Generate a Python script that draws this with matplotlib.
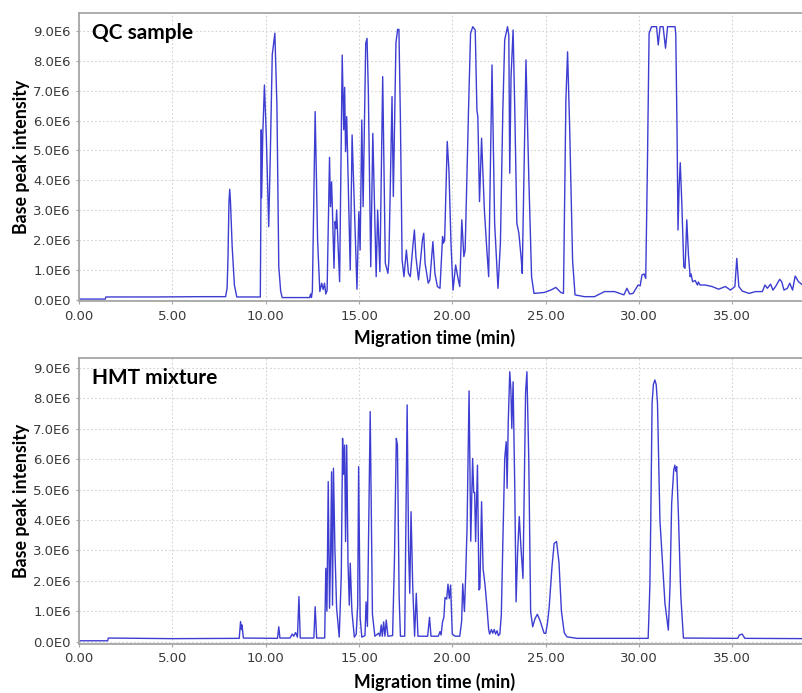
import numpy as np
import matplotlib
matplotlib.use("Agg")
import matplotlib.pyplot as plt
from matplotlib.ticker import FixedLocator, FuncFormatter

# Base peak electropherograms (time in min, intensity in 1E6)
qc_time = [0.0, 1.40, 1.43, 4.0, 6.5, 7.85, 7.93, 7.98, 8.03, 8.07, 8.11, 8.20, 8.32, 8.45,
           9.0, 9.71,
           9.74, 9.76, 9.78, 9.84, 9.93, 10.03, 10.16, 10.25, 10.35, 10.49, 10.60,
           10.70, 10.80, 10.88, 12.35, 12.41, 12.45, 12.50, 12.65, 12.78, 12.90,
           13.00, 13.08, 13.15, 13.22, 13.29, 13.42, 13.47, 13.53, 13.58, 13.66,
           13.72, 13.76, 13.80, 13.96, 14.10, 14.18, 14.23, 14.28, 14.34, 14.53,
           14.63, 14.89, 14.99, 15.06, 15.15, 15.22, 15.36, 15.43, 15.50, 15.63,
           15.74, 15.92, 16.00, 16.12, 16.27, 16.41, 16.55, 16.60, 16.77, 16.84,
           16.98, 17.07, 17.14, 17.22, 17.31, 17.41, 17.54, 17.65, 17.75, 17.90,
           17.97, 18.05, 18.19, 18.30, 18.40, 18.47, 18.54, 18.71, 18.80, 18.96,
           19.07, 19.20, 19.34, 19.48, 19.53, 19.59, 19.73, 19.82, 19.93, 20.04,
           20.18, 20.29, 20.40, 20.51, 20.62, 20.69, 20.87, 20.98, 21.10, 21.23,
           21.32, 21.37, 21.46, 21.57, 21.72, 21.83, 21.95, 22.13, 22.27, 22.45,
           22.58, 22.71, 22.81, 22.96, 23.03, 23.08, 23.15, 23.26, 23.35, 23.46,
           23.57, 23.70, 23.75, 23.95, 24.10, 24.25, 24.38, 24.92, 25.28, 25.55,
           25.82, 25.96, 26.09, 26.18, 26.29, 26.45, 26.58, 27.08, 27.62, 28.16,
           28.70, 29.06, 29.20, 29.36, 29.51, 29.69, 29.96, 30.07, 30.17, 30.28,
           30.37, 30.46, 30.55, 30.68, 30.95, 31.04, 31.14, 31.30, 31.43, 31.54,
           31.94, 31.98, 32.05, 32.10, 32.16, 32.22, 32.30, 32.41, 32.48, 32.57,
           32.66, 32.75, 32.80, 32.88, 33.02, 33.14, 33.19, 33.28, 33.55, 33.92,
           34.28, 34.64, 34.91, 35.15, 35.25, 35.36, 35.54, 35.90, 36.26, 36.62,
           36.76, 36.89, 37.06, 37.19, 37.33, 37.55, 37.66, 37.78, 37.96, 38.09,
           38.24, 38.38, 38.56, 38.78, 38.96, 39.15]
qc_intensity = [0.03, 0.03, 0.10, 0.10, 0.11, 0.11, 0.4, 1.5, 3.3, 3.70, 3.3, 1.8, 0.5, 0.10,
                0.10, 0.10,
                3.0, 5.69, 3.42, 5.5, 7.19, 5.5, 2.45, 5.0, 8.2, 8.92, 6.5,
                1.11, 0.3, 0.08, 0.08, 0.2, 0.08, 0.3, 6.30, 2.0, 0.28,
                0.56, 0.35, 0.56, 0.2, 0.32, 4.77, 3.12, 3.95, 2.90, 1.06,
                2.62, 2.39, 3.01, 0.61, 8.19, 5.69, 7.11, 4.96, 6.13, 1.00,
                5.52, 0.36, 2.95, 1.67, 6.02, 3.12, 8.58, 8.75, 7.0, 1.11,
                5.57, 0.78, 3.01, 0.95, 7.47, 1.23, 0.89, 1.3, 6.80, 3.46,
                8.6, 9.05, 9.05, 6.0, 1.34, 0.78, 1.67, 0.89, 0.78, 1.90,
                2.34, 1.45, 0.67, 1.34, 2.01, 2.23, 1.23, 0.56, 0.67, 1.95,
                0.89, 0.45, 0.39, 2.12, 1.90, 2.0, 5.30, 4.35, 1.90, 0.33,
                1.17, 0.78, 0.45, 2.68, 1.45, 1.67, 6.35, 8.92, 9.14, 9.03,
                6.35, 6.13, 3.29, 5.41, 3.01, 1.9, 0.78, 7.86, 2.57, 0.39,
                1.90, 6.35, 8.70, 9.14, 8.86, 4.24, 7.47, 9.03, 6.35, 2.57,
                2.23, 1.34, 0.89, 8.03, 4.13, 0.78, 0.22, 0.25, 0.33, 0.42,
                0.25, 0.22, 6.69, 8.30, 5.8, 1.3, 0.17, 0.11, 0.11, 0.28,
                0.28, 0.2, 0.17, 0.39, 0.2, 0.22, 0.5, 0.47, 0.84, 0.87,
                0.72, 4.5, 8.92, 9.14, 9.14, 8.53, 9.14, 9.14, 8.42, 9.14,
                9.14, 8.9, 5.57, 2.34, 3.8, 4.59, 3.3, 1.11, 1.06, 2.68,
                1.5, 0.78, 0.87, 0.61, 0.65, 0.5, 0.6, 0.5, 0.5, 0.45,
                0.36, 0.45, 0.33, 0.45, 1.39, 0.45, 0.3, 0.22, 0.28, 0.28,
                0.5, 0.39, 0.53, 0.33, 0.45, 0.69, 0.61, 0.33, 0.39, 0.56,
                0.33, 0.80, 0.61, 0.5, 0.47, 0.61]

hmt_time = [0.0, 1.53, 1.56, 5.0, 8.0, 8.58, 8.65, 8.70, 8.73, 8.80, 10.63, 10.70, 10.76,
            11.30, 11.42, 11.50, 11.60, 11.70, 11.78, 11.85, 12.58, 12.65, 12.73, 13.16,
            13.22, 13.28, 13.35, 13.42, 13.48, 13.53, 13.58, 13.63, 13.71, 13.80, 13.94,
            14.05, 14.12, 14.17, 14.23, 14.28, 14.34, 14.41, 14.48, 14.53, 14.62, 14.75,
            14.85, 14.93, 14.98, 15.06, 15.15, 15.32, 15.38, 15.45, 15.60, 15.72, 15.85,
            16.05, 16.12, 16.19, 16.25, 16.32, 16.39, 16.46, 16.55, 16.80, 16.90, 17.00,
            17.06, 17.15, 17.22, 17.45, 17.58, 17.66, 17.72, 17.79, 17.88, 17.98, 18.07,
            18.16, 18.68, 18.78, 18.86, 19.25, 19.34, 19.40, 19.48, 19.55, 19.61, 19.70,
            19.77, 19.84, 19.91, 20.00, 20.15, 20.40, 20.50, 20.56, 20.65, 20.72, 20.79,
            20.90, 20.99, 21.09, 21.15, 21.20, 21.25, 21.35, 21.43, 21.48, 21.57, 21.65,
            21.75, 21.85, 21.95, 22.00, 22.10, 22.17, 22.25, 22.32, 22.40, 22.47, 22.55,
            22.63, 22.70, 22.81, 22.89, 22.94, 23.00, 23.08, 23.14, 23.19, 23.26, 23.35,
            23.42, 23.50, 23.59, 23.68, 23.79, 23.86, 23.93, 24.00, 24.10, 24.20, 24.31,
            24.43, 24.56, 24.70, 24.92, 25.01, 25.10, 25.19, 25.35, 25.46, 25.59, 25.72,
            25.85, 26.00, 26.14, 26.68, 29.78, 30.50, 30.59, 30.64, 30.71, 30.78, 30.86,
            30.93, 31.00, 31.13, 31.40, 31.58, 31.67, 31.76, 31.87, 31.93, 31.98, 32.03,
            32.12, 32.25, 32.39, 35.30, 35.39, 35.54, 35.68, 39.15]
hmt_intensity = [0.03, 0.03, 0.12, 0.10, 0.11, 0.11, 0.66, 0.40, 0.55, 0.12, 0.11, 0.49, 0.12,
                 0.12, 0.25, 0.18, 0.30, 0.15, 1.48, 0.12, 0.12, 1.15, 0.12, 0.12,
                 2.41, 1.0, 5.26, 1.1, 3.0, 5.58, 1.2, 5.70, 3.0, 1.1, 0.15,
                 2.2, 6.68, 5.5, 6.46, 3.29, 6.46, 2.6, 1.2, 2.58, 1.0, 0.15,
                 0.25, 1.2, 5.75, 0.8, 0.15, 0.20, 1.31, 0.5, 7.56, 0.9, 0.18,
                 0.28, 0.18, 0.55, 0.18, 0.65, 0.18, 0.71, 0.18, 0.2, 2.7, 6.68,
                 6.46, 1.5, 0.18, 0.18, 7.78, 3.0, 1.59, 4.27, 1.8, 0.18, 1.59,
                 0.18, 0.18, 0.80, 0.18, 0.18, 0.33, 0.22, 0.66, 0.8, 1.45, 1.40,
                 1.89, 1.42, 1.86, 0.25, 0.18, 0.18, 0.66, 1.90, 0.99, 2.2, 3.7,
                 8.24, 3.3, 6.02, 4.9, 4.9, 3.29, 5.80, 1.7, 1.75, 4.60, 2.4,
                 1.9, 1.2, 0.4, 0.25, 0.4, 0.28, 0.4, 0.25, 0.36, 0.2, 0.25,
                 0.9, 2.96, 6.02, 6.57, 5.04, 7.2, 8.87, 8.3, 7.01, 8.54, 5.0,
                 1.31, 2.9, 4.11, 3.1, 2.08, 5.2, 8.2, 8.87, 6.0, 0.99, 0.49,
                 0.75, 0.90, 0.7, 0.28, 0.27, 0.6, 1.10, 2.5, 3.23, 3.29, 2.6,
                 1.0, 0.3, 0.16, 0.11, 0.11, 0.11, 1.8, 4.0, 7.83, 8.45, 8.60,
                 8.45, 7.83, 4.0, 1.26, 0.38, 1.8, 4.55, 5.64, 5.80, 5.60, 5.75,
                 4.2, 1.5, 0.12, 0.11, 0.22, 0.25, 0.11, 0.10]

panel_titles = ["QC sample", "HMT mixture"]
x_ticks = [0, 5, 10, 15, 20, 25, 30, 35]
y_ticks = [0, 1, 2, 3, 4, 5, 6, 7, 8, 9]

LINE = "#3d3dd2"
LABEL_FONT = "Lato"


def fmt_y(v, pos):
    if v == 0:
        return "0.0E0"
    return f"{v:.1f}E6"


def style_axes(ax, ylim, title, title_y):
    ax.set_xlim(0, 39.17)
    ax.set_ylim(*ylim)
    ax.xaxis.set_major_locator(FixedLocator(x_ticks))
    ax.yaxis.set_major_locator(FixedLocator(y_ticks))
    ax.xaxis.set_major_formatter(FuncFormatter(lambda v, p: f"{v:.2f}"))
    ax.yaxis.set_major_formatter(FuncFormatter(fmt_y))
    ax.grid(True, color="#d4d4d4", linestyle=(0, (1.5, 2)), linewidth=0.8)
    ax.set_axisbelow(True)
    for side in ["top", "left", "bottom"]:
        ax.spines[side].set_color("#a6a6a6")
        ax.spines[side].set_linewidth(1.3)
    ax.spines["right"].set_visible(False)
    ax.tick_params(axis="both", length=2, color="#a6a6a6", labelsize=9.5,
                   labelcolor="#3a3a3a", pad=4)
    ax.set_ylabel("Base peak intensity", fontfamily=LABEL_FONT, fontweight="bold",
                  fontsize=12.8, color="black")
    ax.yaxis.set_label_coords(-0.067, 0.5)
    ax.set_xlabel("Migration time (min)", fontfamily=LABEL_FONT, fontweight="bold",
                  fontsize=12.8, color="black")
    ax.text(0.0174, title_y, title, transform=ax.transAxes, fontfamily=LABEL_FONT,
            fontweight="bold", fontsize=15, va="center", ha="left")


def main():
    fig = plt.figure(figsize=(8.03, 6.93), dpi=100)

    ax1 = fig.add_axes([0.0986, 0.565, 0.91, 0.4159])
    ax1.plot(qc_time, qc_intensity, color=LINE, linewidth=1.0)
    style_axes(ax1, (-0.05, 9.59), panel_titles[0], 0.932)
    ax1.xaxis.set_label_coords(0.487, -0.095)

    ax2 = fig.add_axes([0.0986, 0.0707, 0.91, 0.4131])
    ax2.plot(hmt_time, hmt_intensity, color=LINE, linewidth=1.0)
    style_axes(ax2, (-0.076, 9.33), panel_titles[1], 0.928)
    ax2.xaxis.set_label_coords(0.487, -0.101)

    fig.savefig("out.png", dpi=100)


if __name__ == "__main__":
    main()
